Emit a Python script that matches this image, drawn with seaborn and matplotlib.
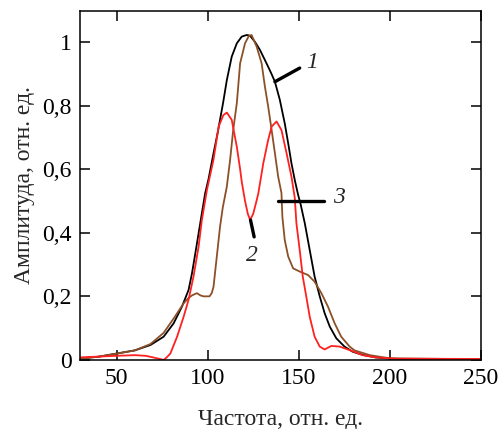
import matplotlib
matplotlib.use('Agg')
import matplotlib.pyplot as plt
import seaborn as sns
import pandas as pd

# Curve 1 (black)
x1 = [30, 40, 50, 60, 68.6, 75.8, 81.3, 85.9, 89.5, 91.4, 93.2, 95, 96.8, 98.6, 100.5, 103.2,
      105.5, 108.5, 110.5, 113.2, 116, 118.7, 121.4, 123.2, 126, 128.7, 131, 133.2, 135,
      136.9, 139.6, 142.3, 144.2, 146, 147.8, 149.6, 151, 153.3, 156, 158.7, 161.5, 164.2,
      167, 170.6, 175.1, 179.5, 185, 192, 200, 210, 250]
y1 = [0.005, 0.01, 0.02, 0.03, 0.047, 0.073, 0.115, 0.168, 0.22, 0.273, 0.335, 0.398, 0.461,
      0.524, 0.57, 0.65, 0.715, 0.81, 0.88, 0.954, 0.996, 1.017, 1.022, 1.02, 1.0, 0.975,
      0.948, 0.922, 0.9, 0.875, 0.818, 0.744, 0.681, 0.618, 0.566, 0.52, 0.49, 0.43, 0.346,
      0.262, 0.2, 0.147, 0.105, 0.068, 0.042, 0.026, 0.016, 0.008, 0.004, 0.002, 0.001]

# Curve 2 (brown)
x2 = [30, 40, 50, 60, 68.6, 75.8, 81.3, 86.8, 89.5, 91.4, 94.1, 96, 97.7, 101, 102.2, 103.2,
      105, 106.8, 108.3, 110.5, 112.3, 114, 116, 117.8, 120.5, 122.5, 124.1, 126.9, 129.6,
      131.4, 133.2, 135.1, 136.9, 138.7, 140.5, 141, 142.3, 144.2, 146.9, 150.5, 153, 155.1,
      158.7, 162.4, 166, 169.7, 173.3, 177.9, 180.6, 189, 200, 250]
y2 = [0.004, 0.01, 0.02, 0.03, 0.05, 0.085, 0.13, 0.178, 0.195, 0.203, 0.21, 0.203, 0.2, 0.2,
      0.21, 0.23, 0.325, 0.42, 0.48, 0.545, 0.629, 0.723, 0.808, 0.933, 0.996, 1.018, 1.022,
      0.985, 0.933, 0.86, 0.797, 0.723, 0.65, 0.576, 0.525, 0.45, 0.377, 0.325, 0.288, 0.278,
      0.272, 0.267, 0.246, 0.21, 0.168, 0.115, 0.073, 0.042, 0.03, 0.015, 0.005, 0.002]

# Curve 3 (red)
x3 = [30, 50, 60, 66, 70, 73, 75.8, 77.5, 79.5, 83.2, 86.8, 89.5, 92.2, 95, 96.8, 99.6, 103.2,
      106, 108.6, 110.5, 113.2, 116, 117.8, 118.7, 120.5, 122, 123.3, 125, 126.8, 127.8,
      130.5, 133.2, 135.1, 137.8, 140.5, 143.3, 146, 147.8, 148.7, 150.5, 152.2, 154.1, 156,
      158.7, 161.5, 164.2, 167.9, 172.4, 177.9, 185, 192, 200, 205, 250]
y3 = [0.008, 0.013, 0.015, 0.013, 0.008, 0.004, 0.0, 0.008, 0.02, 0.073, 0.136, 0.189, 0.262,
      0.356, 0.44, 0.535, 0.63, 0.734, 0.77, 0.778, 0.755, 0.67, 0.6, 0.56, 0.5, 0.46, 0.44,
      0.46, 0.5, 0.524, 0.618, 0.692, 0.734, 0.75, 0.723, 0.65, 0.576, 0.51, 0.43, 0.346,
      0.262, 0.2, 0.136, 0.073, 0.042, 0.033, 0.044, 0.042, 0.031, 0.015, 0.008, 0.005,
      0.004, 0.003]

x_ticks = [50, 100, 150, 200, 250]
y_ticks = [0, 0.2, 0.4, 0.6, 0.8, 1.0]
y_tick_labels = ['0', '0,2', '0,4', '0,6', '0,8', '1']

sns.set_style('ticks')
plt.rcParams['font.family'] = ['Liberation Serif', 'DejaVu Serif']

fig = plt.figure(figsize=(5.01, 4.29), dpi=100)
ax = fig.add_axes([0.16, 0.161, 0.8, 0.813])

df1 = pd.DataFrame({'x': x1, 'y': y1})
df2 = pd.DataFrame({'x': x2, 'y': y2})
df3 = pd.DataFrame({'x': x3, 'y': y3})
sns.lineplot(data=df1, x='x', y='y', color='black', linewidth=1.3, estimator=None, ax=ax)
sns.lineplot(data=df2, x='x', y='y', color='#8c5028', linewidth=1.3, estimator=None, ax=ax)
sns.lineplot(data=df3, x='x', y='y', color='#ff2020', linewidth=1.3, estimator=None, ax=ax)

ax.set_xlim(30, 250)
ax.set_ylim(0, 1.097)
ax.set_xticks(x_ticks)
ax.set_xticklabels([str(v) for v in x_ticks])
ax.set_yticks(y_ticks)
ax.set_yticklabels(y_tick_labels)
ax.tick_params(direction='in', length=7, width=1.1, top=True, right=True,
               labelsize=17, pad=6, colors='black')
for s in ax.spines.values():
    s.set_visible(True)
    s.set_linewidth(1.1)
    s.set_color('black')

ax.set_xlabel('Частота, отн. ед.', fontsize=17, labelpad=14)
ax.set_ylabel('Амплитуда, отн. ед.', fontsize=17, labelpad=5)

# curve labels with leader lines
ax.plot([136.9, 150.5], [0.875, 0.918], color='black', linewidth=2.4)
ax.text(154, 0.935, '1', fontsize=17, fontstyle='italic', va='center', ha='left')
ax.plot([138.5, 163.7], [0.5, 0.5], color='black', linewidth=2.4)
ax.text(169, 0.51, '3', fontsize=17, fontstyle='italic', va='center', ha='left')
ax.plot([123.5, 125.5], [0.44, 0.387], color='black', linewidth=2.4)
ax.text(124.3, 0.33, '2', fontsize=17, fontstyle='italic', va='center', ha='center')

fig.savefig('out.png', dpi=100)
